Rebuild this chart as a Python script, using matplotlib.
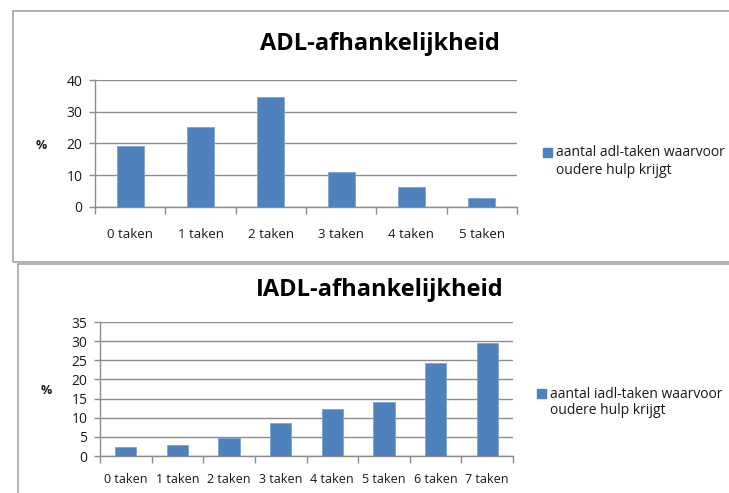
import matplotlib.pyplot as plt
from matplotlib.patches import Rectangle

adl_labels = ['0 taken', '1 taken', '2 taken', '3 taken', '4 taken', '5 taken']
adl_values = [19.2, 25.2, 34.7, 11.1, 6.3, 2.9]

iadl_labels = ['0 taken', '1 taken', '2 taken', '3 taken', '4 taken', '5 taken', '6 taken', '7 taken']
iadl_values = [2.4, 3.0, 4.7, 8.6, 12.4, 14.0, 24.3, 29.4]

W, H = 729, 493
bar_color = '#4F81BD'
grid_color = '#8C8C8C'
font = 'Open Sans'

fig = plt.figure(figsize=(W / 100, H / 100), dpi=100)


def box(px_left, px_top, px_right, px_bottom):
    return [px_left / W, 1 - px_bottom / H, (px_right - px_left) / W, (px_bottom - px_top) / H]


# chart frames
fig.patches.append(Rectangle((13 / W, 1 - 262 / H), 760 / W, 251 / H, transform=fig.transFigure,
                             fill=False, edgecolor='#A6A6A6', linewidth=1.2))
fig.patches.append(Rectangle((18 / W, -0.05), 760 / W, (1 - 264 / H) + 0.05, transform=fig.transFigure,
                             fill=False, edgecolor='#A6A6A6', linewidth=1.2))


def draw(rect, labels, values, ymax, step, width, title, title_y, pct, leg_sq, leg_lines, xpad, xsize):
    ax = fig.add_axes(box(*rect))
    x = range(len(values))
    ax.bar(x, values, width=width, color=bar_color, edgecolor='#7FA3D0', linewidth=0.6, zorder=3)
    ax.set_xlim(-0.5, len(values) - 0.5)
    ax.set_ylim(0, ymax)
    ax.set_yticks(range(0, ymax + 1, step))
    ax.yaxis.grid(True, color=grid_color, linewidth=1.0, zorder=0)
    ax.set_xticks([i - 0.5 for i in range(len(values) + 1)])
    ax.set_xticklabels([])
    ax.set_xticks(list(x), minor=True)
    ax.set_xticklabels(labels, minor=True, fontfamily=font, fontsize=xsize, color='#1a1a1a')
    ax.tick_params(axis='x', which='minor', length=0, pad=xpad)
    ax.tick_params(axis='x', which='major', length=5, color=grid_color, width=1)
    ax.tick_params(axis='y', length=4, color=grid_color, width=1, pad=5, labelsize=10,
                   labelcolor='#1a1a1a')
    for t in ax.get_yticklabels():
        t.set_fontfamily(font)
    for s in ['top', 'right']:
        ax.spines[s].set_visible(False)
    for s in ['left', 'bottom']:
        ax.spines[s].set_color(grid_color)
        ax.spines[s].set_linewidth(1)
    fig.text(380 / W, 1 - title_y / H, title, ha='center', va='center', fontfamily=font,
             fontweight='bold', fontsize=17, color='#000000')
    fig.text(pct[0] / W, 1 - pct[1] / H, '%', ha='center', va='center', fontfamily=font,
             fontweight='bold', fontsize=9, color='#1a1a1a')
    sx, sy = leg_sq
    fig.patches.append(Rectangle((sx / W, 1 - (sy + 9) / H), 9 / W, 9 / H, transform=fig.transFigure,
                                 color=bar_color))
    fig.text((sx + 13) / W, 1 - (sy + 5) / H, leg_lines[0], ha='left', va='center', fontfamily=font,
             fontsize=10, color='#1a1a1a')
    fig.text((sx + 13) / W, 1 - (sy + 22) / H, leg_lines[1], ha='left', va='center', fontfamily=font,
             fontsize=10, color='#1a1a1a')
    return ax


draw((95, 80, 517, 207), adl_labels, adl_values, 40, 10, 0.38, 'ADL-afhankelijkheid', 44,
     (41, 145), (543, 148), ['aantal adl-taken waarvoor', 'oudere hulp krijgt'], 15, 9.5)
draw((100, 322, 513, 456), iadl_labels, iadl_values, 35, 5, 0.41, 'IADL-afhankelijkheid', 290,
     (46, 390), (537, 389), ['aantal iadl-taken waarvoor', 'oudere hulp krijgt'], 12, 9)

fig.savefig('out.png', dpi=100)
